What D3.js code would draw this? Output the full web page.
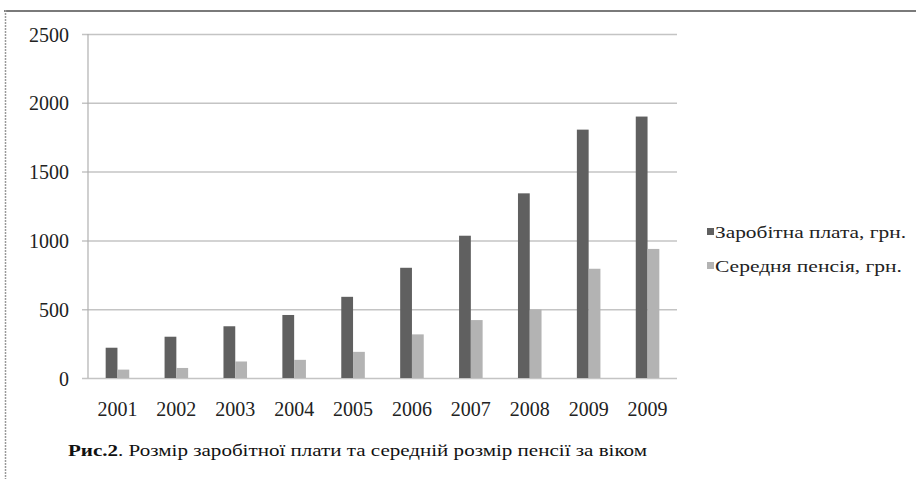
<!DOCTYPE html>
<html>
<head>
<meta charset="utf-8">
<script src="https://cdn.jsdelivr.net/npm/d3@7"></script>
<style>
  body { margin:0; background:#ffffff; }
  svg text { font-family:"Liberation Serif","DejaVu Serif",serif; }
  .yTick text, .xTick text { fill:#222; font-size:20px; }
  .legend text { fill:#222; font-size:17px; }
  .caption { fill:#111; font-size:17px; }
</style>
</head>
<body>
<svg id="chart"></svg>
<script>
// years on the x axis (the source repeats 2009)
var years = ["2001","2002","2003","2004","2005","2006","2007","2008","2009","2009"];
// series names
var seriesNames = ["Заробітна плата, грн.","Середня пенсія, грн."];
// average wage
var wages = [220,300,376,458,590,801,1034,1342,1805,1900];
// average pension
var pensions = [61,73,120,132,190,317,421,498,794,938];
// y tick values
var yTicks = [0,500,1000,1500,2000,2500];

var colors = ["#606060","#b3b3b3"];

var screen = {width:916,height:479};
var margins = {left:88,right:239,top:34,bottom:101};

var graphDim =
    {
        width:screen.width-margins.left-margins.right,
        height:screen.height-margins.top-margins.bottom
    };

var svg = d3.select("#chart")
    .attr("width",screen.width)
    .attr("height",screen.height);

//frame of the page fragment
svg.append("line")
    .attr("x1",4).attr("x2",screen.width)
    .attr("y1",11).attr("y2",11)
    .attr("stroke","#7a7a7a")
    .attr("stroke-width",2);
svg.append("line")
    .attr("x1",5.5).attr("x2",5.5)
    .attr("y1",10).attr("y2",screen.height)
    .attr("stroke","#9a9a9a")
    .attr("stroke-width",1.5)
    .attr("stroke-dasharray","2,1");

var xScale = d3.scaleBand()
    .domain(d3.range(years.length))
    .range([0,graphDim.width])
    .paddingInner(0.6)
    .paddingOuter(0.3);

var xInner = d3.scaleBand()
    .domain([0,1])
    .range([0,xScale.bandwidth()]);

var yScale = d3.scaleLinear()
    .domain([0,2500])
    .range([graphDim.height,0]);

var plot = svg.append("g")
    .attr("transform","translate("+margins.left+","+margins.top+")");

//gridlines with outward tick marks
var yAxis = d3.axisLeft(yScale)
    .tickValues(yTicks)
    .tickSize(-(graphDim.width+6))
    .tickPadding(13)
    .tickFormat(d3.format("d"));

plot.append("g")
    .attr("class","yTick")
    .attr("transform","translate(-6,0)")
    .call(yAxis)
    .call(function(g){
        g.attr("font-family",null).attr("font-size",null);
        g.select(".domain").remove();
        g.selectAll("line").attr("stroke","#c4c4c4").attr("stroke-width",1.5);
        g.selectAll("text").attr("dy","0.35em");
    });

//vertical axis line
plot.append("line")
    .attr("x1",0).attr("x2",0)
    .attr("y1",0).attr("y2",graphDim.height)
    .attr("stroke","#b0b0b0")
    .attr("stroke-width",1.2);

//bars
var groups = plot.selectAll(".year")
    .data(years.map(function(y,i){ return {i:i, vals:[wages[i],pensions[i]]}; }))
    .enter()
    .append("g")
    .attr("class","year")
    .attr("transform",function(d){ return "translate("+xScale(d.i)+",0)"; });

groups.selectAll("rect")
    .data(function(d){ return d.vals.map(function(v,k){ return {k:k,v:v}; }); })
    .enter()
    .append("rect")
    .attr("x",function(d){ return xInner(d.k); })
    .attr("width",xInner.bandwidth())
    .attr("y",function(d){ return yScale(d.v); })
    .attr("height",function(d){ return graphDim.height-yScale(d.v); })
    .attr("fill",function(d){ return colors[d.k]; });

//x labels
var xAxis = d3.axisBottom(xScale)
    .tickSize(0)
    .tickPadding(24)
    .tickFormat(function(i){ return years[i]; });

plot.append("g")
    .attr("class","xTick")
    .attr("transform","translate(0,"+graphDim.height+")")
    .call(xAxis)
    .call(function(g){
        g.attr("font-family",null).attr("font-size",null);
        g.select(".domain").remove();
    });

//legend
var legend = svg.append("g")
    .attr("class","legend")
    .attr("transform","translate(707,228)");

var entries = legend.selectAll("g")
    .data(seriesNames)
    .enter()
    .append("g")
    .attr("transform",function(d,i){ return "translate(0,"+(i*34)+")"; });

entries.append("rect")
    .attr("width",7)
    .attr("height",7)
    .attr("fill",function(d,i){ return colors[i]; });

entries.append("text")
    .text(function(d){ return d; })
    .attr("x",8)
    .attr("y",10)
    .attr("textLength",function(d,i){ return i==0 ? 191 : 187; })
    .attr("lengthAdjust","spacingAndGlyphs");

//caption
var caption = svg.append("text")
    .attr("class","caption")
    .attr("x",68)
    .attr("y",456)
    .attr("textLength",579)
    .attr("lengthAdjust","spacingAndGlyphs");
caption.append("tspan")
    .attr("font-weight","bold")
    .text("Рис.2");
caption.append("tspan")
    .text(". Розмір заробітної плати та середній розмір пенсії  за віком");
</script>
</body>
</html>
